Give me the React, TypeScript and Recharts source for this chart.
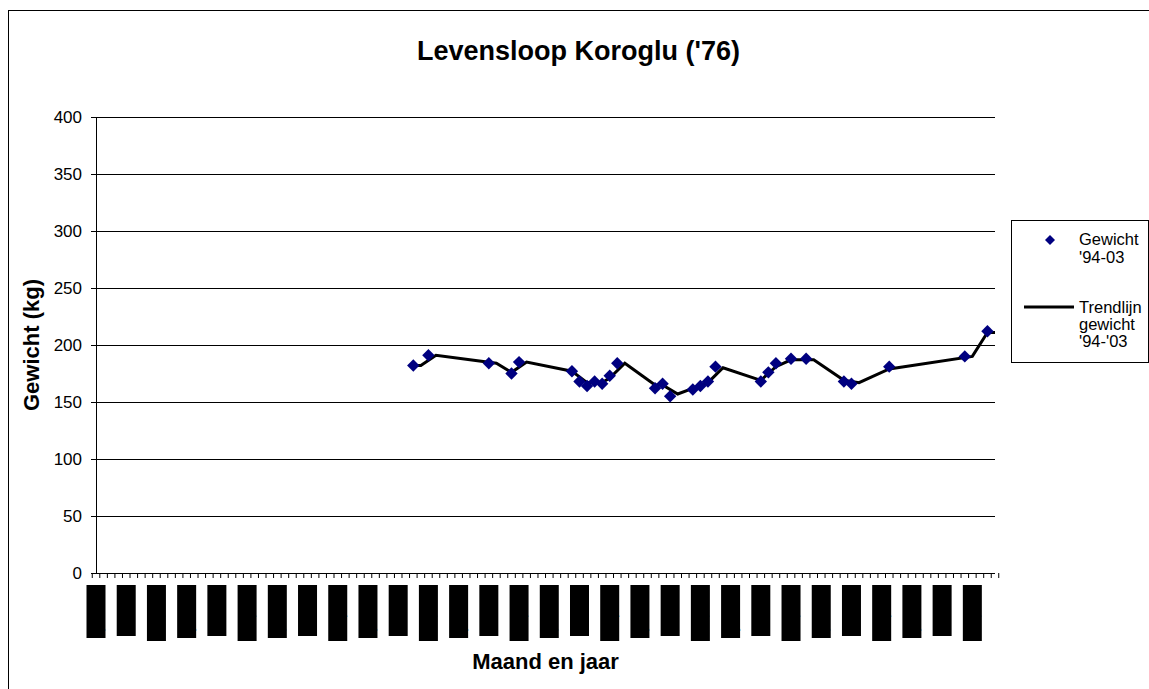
import React from "react";
import { ComposedChart, Line, XAxis, YAxis, CartesianGrid } from "recharts";

const MONTHS = ["jan", "feb", "mrt", "apr", "mei", "jun", "jul", "aug", "sep", "okt", "nov", "dec"];
const YEARS = ["94", "95", "96", "97", "98", "99", "00", "01", "02", "03"];
const CATEGORIES = YEARS.flatMap((y) => MONTHS.map((m) => `${m}-${y}`));
const Y_TICKS = [0, 50, 100, 150, 200, 250, 300, 350, 400];

// measured weights '94-'03
const WEIGHT_MONTHS = [
    "jul-97", "sep-97", "mei-98", "aug-98", "sep-98",
    "apr-99", "mei-99", "jun-99", "jul-99", "aug-99", "sep-99", "okt-99",
    "mrt-00", "apr-00", "mei-00", "aug-00", "sep-00", "okt-00", "nov-00",
    "mei-01", "jun-01", "jul-01", "sep-01", "nov-01",
    "apr-02", "mei-02", "okt-02", "aug-03", "nov-03",
];
const WEIGHT_VALUES = [
    182, 191, 184, 175, 185,
    177, 168, 164, 168, 166, 173, 184,
    162, 166, 155, 161, 164, 168, 181,
    168, 176, 184, 188, 188,
    168, 166, 181, 190, 212,
];

// trendline
const TREND_MONTHS = [
    "jul-97", "aug-97", "okt-97", "jun-98", "aug-98", "okt-98",
    "apr-99", "mei-99", "jun-99", "aug-99", "sep-99", "nov-99",
    "mrt-00", "apr-00", "jun-00", "aug-00", "sep-00", "okt-00", "dec-00",
    "mei-01", "jul-01", "sep-01", "dec-01",
    "apr-02", "jun-02", "okt-02", "sep-03", "nov-03", "dec-03",
];
const TREND_VALUES = [
    182, 182, 191, 184, 176, 185,
    177, 172, 167, 167, 171, 184,
    165, 165, 157, 162, 164, 167, 180,
    169, 181, 187, 187,
    169, 167, 179, 190, 211, 211,
];

const data = CATEGORIES.map((c) => {
    const wi = WEIGHT_MONTHS.indexOf(c);
    const ti = TREND_MONTHS.indexOf(c);
    return {
        maand: c,
        gewicht: wi >= 0 ? WEIGHT_VALUES[wi] : null,
        trend: ti >= 0 ? TREND_VALUES[ti] : null,
    };
});

const FONT = '"Liberation Sans", Arial, sans-serif';
const PLOT_W = 899;
const BAND = PLOT_W / CATEGORIES.length;
const BLOCK_H = [53, 51, 56];

function Diamond(props: any) {
    const { cx, cy, payload } = props;
    if (cx == null || cy == null || payload?.gewicht == null) return null;
    const r = 6.2;
    return (
        <path
            d={`M${cx},${cy - r}L${cx + r},${cy}L${cx},${cy + r}L${cx - r},${cy}Z`}
            fill="#000080"
        />
    );
}

// excel-ish category ticks: marks between categories, rotated label every 4th month
function XTick(props: any) {
    const { x, y, index, payload } = props;
    const left = x - BAND / 2;
    const isLabel = index % 4 === 0;
    const h = BLOCK_H[(index / 4) % 3];
    return (
        <g>
            <line x1={left} x2={left} y1={y} y2={y + 5} stroke="#000" />
            {index === CATEGORIES.length - 1 && (
                <line x1={x + BAND / 2} x2={x + BAND / 2} y1={y} y2={y + 5} stroke="#000" />
            )}
            {isLabel && (
                <g>
                    <rect x={x - 9.5} y={y + 12} width={19} height={h} fill="#000" />
                    <text
                        transform={`translate(${x + 6},${y + 13}) rotate(-90)`}
                        textAnchor="end"
                        fontSize={16}
                        fontFamily={FONT}
                        fill="#000"
                    >
                        {payload.value}
                    </text>
                </g>
            )}
        </g>
    );
}

function LegendBox() {
    return (
        <div
            style={{
                position: "absolute", left: 1002, top: 209, width: 136, height: 141,
                border: "1px solid #000", background: "#fff",
            }}
        >
            <svg width={136} height={141} style={{ display: "block" }}>
                <path d="M38,14L43,19L38,24L33,19Z" fill="#000080" />
                <text x={67} y={24} fontSize={16.5} fontFamily={FONT} fill="#000">Gewicht</text>
                <text x={67} y={42} fontSize={16.5} fontFamily={FONT} fill="#000">'94-03</text>
                <line x1={12} x2={62} y1={86} y2={86} stroke="#000" strokeWidth={3} />
                <text x={67} y={92} fontSize={16.5} fontFamily={FONT} fill="#000">Trendlijn</text>
                <text x={67} y={109} fontSize={16.5} fontFamily={FONT} fill="#000">gewicht</text>
                <text x={67} y={126} fontSize={16.5} fontFamily={FONT} fill="#000">'94-'03</text>
            </svg>
        </div>
    );
}

export default function App() {
    return (
        <>
            <style>{`body{overflow:hidden}`}</style>
            <div
                style={{
                    position: "absolute", left: 8, top: 10, width: 1160, height: 700,
                    borderLeft: "1px solid #000", borderTop: "1px solid #000",
                    background: "#fff", fontFamily: FONT,
                }}
            >
                <div
                    style={{
                        position: "absolute", left: 0, top: 25, width: 1139,
                        textAlign: "center", fontSize: 27, fontWeight: "bold", lineHeight: "31px",
                    }}
                >
                    Levensloop Koroglu ('76)
                </div>
                <ComposedChart
                    width={1150}
                    height={680}
                    data={data}
                    margin={{ top: 106, right: 164, left: 0, bottom: 0 }}
                >
                    <CartesianGrid vertical={false} stroke="#000" shapeRendering="crispEdges" />
                    <XAxis
                        dataKey="maand"
                        type="category"
                        interval={0}
                        height={118}
                        tickLine={false}
                        tickSize={0}
                        tickMargin={0}
                        axisLine={{ stroke: "#000", shapeRendering: "crispEdges" }}
                        tick={<XTick />}
                        label={{
                            value: "Maand en jaar", position: "insideBottom", offset: 22,
                            style: { fontSize: 22, fontWeight: "bold", fill: "#000", fontFamily: FONT },
                        }}
                    />
                    <YAxis
                        type="number"
                        domain={[0, 400]}
                        ticks={Y_TICKS}
                        width={87}
                        tickSize={5}
                        tickMargin={9}
                        axisLine={{ stroke: "#000", shapeRendering: "crispEdges" }}
                        tickLine={{ stroke: "#000", shapeRendering: "crispEdges" }}
                        tick={{ fontSize: 17, fill: "#000", fontFamily: FONT }}
                        label={{
                            value: "Gewicht (kg)", angle: -90, position: "insideLeft", offset: 22,
                            style: { fontSize: 22, fontWeight: "bold", fill: "#000", fontFamily: FONT, textAnchor: "middle" },
                        }}
                    />
                    <YAxis
                        yAxisId="r"
                        orientation="right"
                        width={0}
                        domain={[0, 400]}
                        tick={false}
                        tickLine={false}
                        axisLine={{ stroke: "#999", strokeWidth: 2 }}
                    />
                    <Line
                        dataKey="trend"
                        stroke="#000"
                        strokeWidth={3}
                        dot={false}
                        activeDot={false}
                        connectNulls
                        type="linear"
                        isAnimationActive={false}
                    />
                    <Line
                        dataKey="gewicht"
                        stroke="none"
                        dot={(p: any) => <Diamond key={p.index} {...p} />}
                        activeDot={false}
                        isAnimationActive={false}
                    />
                </ComposedChart>
                <LegendBox />
            </div>
        </>
    );
}
